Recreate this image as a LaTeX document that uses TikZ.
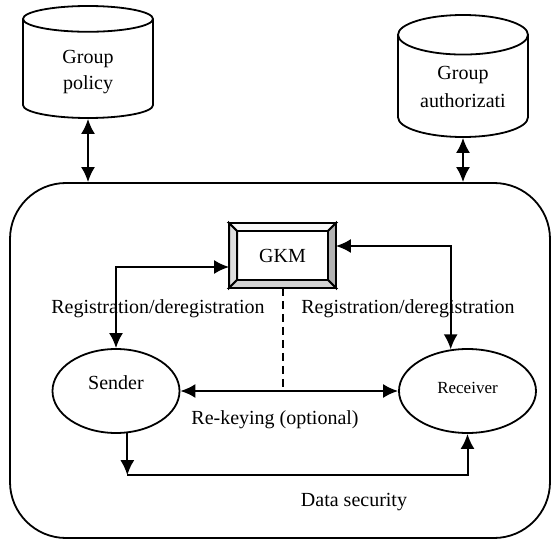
\documentclass[tikz,border=0pt]{standalone}
\usepackage{fontspec}
\setmainfont{Liberation Serif}
\usetikzlibrary{shapes.geometric,positioning,calc,arrows.meta}

\begin{document}
\begin{tikzpicture}
  [x=0.5pt,y=-0.5pt,
   >={Latex[length=7.5pt,width=7pt]},
   every node/.style={font=\fontsize{10}{13}\selectfont},
   store/.style={
     cylinder,
     shape border rotate=90,
     aspect=0.4,
     draw,
     line width=0.9pt,
     minimum width=65pt,
     align=center,
     anchor=shape center
     },
   agent/.style={ellipse, draw, line width=0.9pt},
   link/.style={line width=1pt},
   bevel/.style={draw, line width=0.9pt}
  ]
  \useasboundingbox (0,0) rectangle (552,540);

  % stores above the group
  \node [store, minimum height=56pt] (policy) at (88,62) {Group\\policy};
  \node [store, minimum height=61pt, text depth=4pt] (authz) at (463,76) {Group\\[1pt]authorizati};

  % the group
  \node [draw, line width=0.9pt, rounded corners=28pt,
    minimum width=270pt, minimum height=177.5pt] (domain) at (280,360.5) {};

  \node [draw, line width=0.9pt, inner sep=0pt,
    minimum width=52.5pt, minimum height=31.5pt] (gkm) at (282.5,255.5) {GKM};
  \path [bevel, fill=gray!5] (gkm.north west) -- (gkm.north east)
    -- ($(gkm.north east)+(-4pt,-4pt)$) -- ($(gkm.north west)+(4pt,-4pt)$) -- cycle;
  \path [bevel, fill=gray!25] (gkm.north west) -- (gkm.south west)
    -- ($(gkm.south west)+(4pt,4pt)$) -- ($(gkm.north west)+(4pt,-4pt)$) -- cycle;
  \path [bevel, fill=gray!60] (gkm.north east) -- (gkm.south east)
    -- ($(gkm.south east)+(-4pt,4pt)$) -- ($(gkm.north east)+(-4pt,-4pt)$) -- cycle;
  \path [bevel, fill=gray!35] (gkm.south west) -- (gkm.south east)
    -- ($(gkm.south east)+(-4pt,4pt)$) -- ($(gkm.south west)+(4pt,4pt)$) -- cycle;

  \node [agent, minimum width=63.5pt, minimum height=42pt,
    text height=7pt, text depth=9pt] (sender) at (116,391) {Sender};
  \node [agent, minimum width=68.5pt, minimum height=42pt,
    text height=6pt, text depth=4pt,
    font=\fontsize{8.5}{10}\selectfont] (receiver) at (467.5,391) {Receiver};

  \node (regleft) at (158,309) {Registration/deregistration};
  \node (regright) at (408,309) {Registration/deregistration};
  \node (rekey) at (275,420) {Re-keying (optional)};
  \node (datasec) at (354,502) {Data security};

  \draw[link,<->] (policy.bottom) -- (policy.bottom |- domain.north);
  \draw[link,<->] (authz.bottom) -- (authz.bottom |- domain.north);

  \draw[link,<->] ($(gkm.west)+(0,-5.75pt)$) -| (sender.north);
  \draw[link,<->] ($(gkm.east)+(0,4.75pt)$) -| (receiver.112);
  \draw[link,dashed,dash pattern=on 4pt off 2.5pt] (gkm.south) -- (gkm.south |- sender.east);
  \draw[link,<->] (sender.east) -- (receiver.west);

  \coordinate (datacorner) at ($(sender.285)+(0,-21pt)$);
  \draw[link,->] (sender.285) -- (datacorner);
  \draw[link,->] (datacorner) -| (receiver.south);
\end{tikzpicture}
\end{document}
